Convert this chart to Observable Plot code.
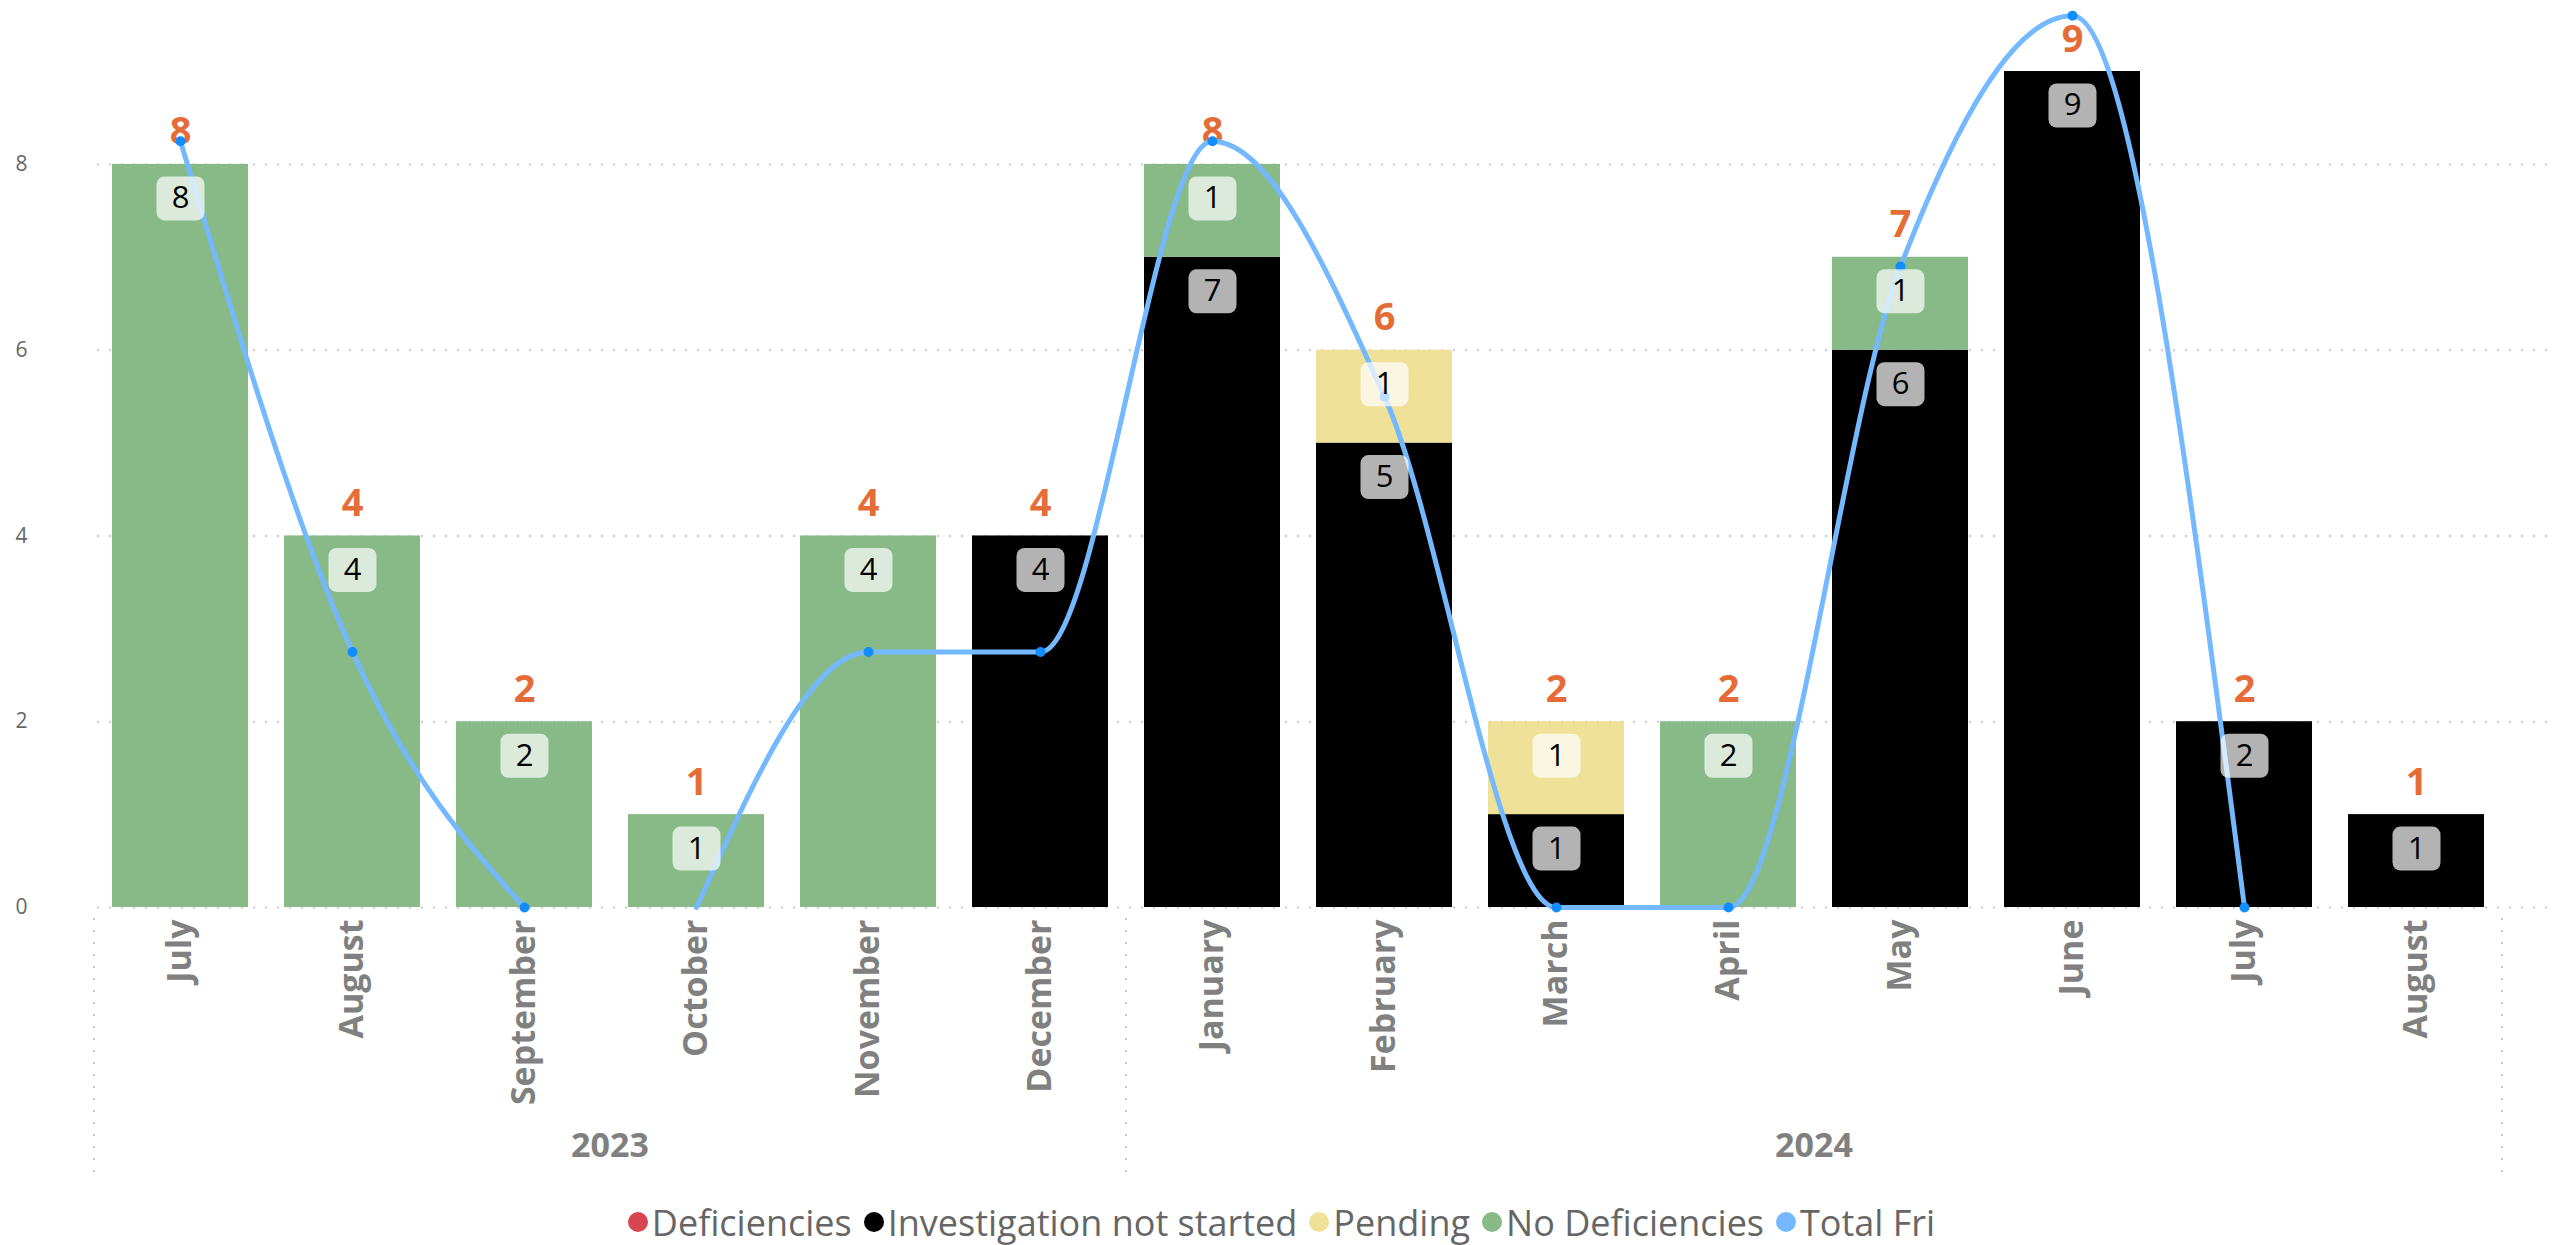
<!DOCTYPE html>
<html>
<head>
<meta charset="utf-8">
<script src="https://cdn.jsdelivr.net/npm/d3@7"></script>
<script src="https://cdn.jsdelivr.net/npm/@observablehq/plot@0.6"></script>
<style>
  html, body { margin: 0; padding: 0; background: #fff; }
  #chart svg { display: block; }
  #legend { display: flex; justify-content: center; align-items: center; height: 74px;
    font-family: "Segoe UI", "Open Sans", sans-serif; font-size: 36px; color: #666; }
  #legend .item { display: flex; align-items: center; margin: 0 6px; }
  #legend .sw { width: 20px; height: 20px; border-radius: 50%; margin-right: 4px; }
</style>
</head>
<body>
<div id="chart"></div>
<div id="legend"></div>
<script>
// ---- data ----
const monthKeys = ["2023-07","2023-08","2023-09","2023-10","2023-11","2023-12","2024-01","2024-02","2024-03","2024-04","2024-05","2024-06","2024-07","2024-08"];
const monthLabels = ["July","August","September","October","November","December","January","February","March","April","May","June","July","August"];
const monthYear = ["2023","2023","2023","2023","2023","2023","2024","2024","2024","2024","2024","2024","2024","2024"];
const yearLabels = ["2023","2024"];

const seriesNames = ["Deficiencies","Investigation not started","Pending","No Deficiencies"];
const seriesColors = ["#D64550","#000000","#F0E199","#87BA87"];
const deficiencies   = [0,0,0,0,0,0,0,0,0,0,0,0,0,0];
const investigation  = [0,0,0,0,0,4,7,5,1,0,6,9,2,1];
const pending        = [0,0,0,0,0,0,0,1,1,0,0,0,0,0];
const noDeficiencies = [8,4,2,1,4,0,1,0,0,2,1,0,0,0];

const lineName = "Total Fri";
const lineColor = "#74B9FF";
const totalFri = [8.25,2.75,0,0,2.75,2.75,8.25,5.5,0,0,6.9,9.6,0,null];
const totalFriSegment = ["a","a","a","b","b","b","b","b","b","b","b","b","b","b"];
const totalFriMarker = [true,true,true,false,true,true,true,true,true,true,true,true,true,false];

const yTicks = [0,2,4,6,8];

// ---- tables ----
const seriesValues = [deficiencies, investigation, pending, noDeficiencies];
const long = [];
seriesNames.forEach((s, si) => {
  monthKeys.forEach((k, i) => long.push({key: k, series: s, value: seriesValues[si][i]}));
});
const nonZero = long.filter(d => d.value > 0);
const totals = monthKeys.map((k, i) => ({key: k, total: seriesValues.reduce((a, arr) => a + arr[i], 0)}));
const lineData = monthKeys.map((k, i) => ({key: k, v: totalFri[i], seg: totalFriSegment[i], m: totalFriMarker[i]}));
const labelOf = Object.fromEntries(monthKeys.map((k, i) => [k, monthLabels[i]]));

const roundRect = {
  draw(ctx) {
    const w = 48, h = 44, r = 8, x0 = -w/2, y0 = -h/2;
    ctx.moveTo(x0 + r, y0);
    ctx.arcTo(x0 + w, y0, x0 + w, y0 + h, r);
    ctx.arcTo(x0 + w, y0 + h, x0, y0 + h, r);
    ctx.arcTo(x0, y0 + h, x0, y0, r);
    ctx.arcTo(x0, y0, x0 + w, y0, r);
    ctx.closePath();
  }
};

const font = "'Segoe UI', 'Open Sans', sans-serif";
const W = 2563, H = 1185;
const stackOpts = {x: "key", y: "value", z: "series", order: seriesNames};

const chart = Plot.plot({
  width: W, height: H,
  marginLeft: 97, marginRight: 12, marginTop: 6, marginBottom: 278,
  style: {fontFamily: font, background: "#fff"},
  x: {domain: monthKeys, range: [94, 2502], paddingInner: 0.21, paddingOuter: 0.105},
  y: {domain: [0, 9.7]},
  color: {domain: seriesNames, range: seriesColors},
  marks: [
    Plot.gridY({ticks: yTicks, stroke: "#c8c8c8", strokeOpacity: 1, strokeWidth: 2, strokeDasharray: "2,10"}),
    Plot.axisY({ticks: yTicks, tickSize: 0, tickPadding: 70, fontSize: 21, color: "#666", label: null}),
    Plot.axisX({tickSize: 0, tickPadding: 12, tickRotate: -90, tickFormat: k => labelOf[k],
      fontSize: 34, fontWeight: "bold", color: "#808080", label: null}),
    Plot.barY(long, Plot.stackY({...stackOpts, fill: "series"})),
    Plot.text(totals, {x: "key", y: "total", text: d => String(d.total), dy: -20, lineAnchor: "bottom",
      fill: "#E66C37", fontSize: 38, fontWeight: "bold"}),
    Plot.line(lineData, {x: "key", y: "v", z: "seg", stroke: lineColor, strokeWidth: 5, curve: "monotone-x"}),
    Plot.dot(lineData.filter(d => d.v != null && d.m), {x: "key", y: "v", r: 5, fill: "#118DFF"}),
    Plot.dot(nonZero, Plot.stackY2({...stackOpts, symbol: roundRect, r: 10, fill: "white", fillOpacity: 0.7, dy: 34})),
    Plot.text(nonZero, Plot.stackY2({...stackOpts, text: d => String(d.value), dy: 34, fill: "black", fontSize: 31, lineAnchor: "middle"}))
  ]
});
document.getElementById("chart").appendChild(chart);

// Year grouping row, positioned with the plot's own x scale
const xs = chart.scale("x");
const bw = xs.bandwidth, gap = xs.step - xs.bandwidth;
const svg = d3.select(chart);
const g = svg.append("g");
const groupEdges = [];
yearLabels.forEach((yr, yi) => {
  const ks = monthKeys.filter((k, i) => monthYear[i] === yr);
  const x0 = xs.apply(ks[0]) - gap / 2;
  const x1 = xs.apply(ks[ks.length - 1]) + bw + gap / 2;
  groupEdges.push(x0, x1);
  g.append("text").attr("x", (x0 + x1) / 2).attr("y", 1145).attr("dy", "0.35em")
    .attr("text-anchor", "middle").attr("font-size", 34).attr("font-weight", "bold")
    .attr("fill", "#808080").attr("font-family", font).text(yr);
});
[...new Set(groupEdges.map(v => Math.round(v)))].forEach(x => {
  g.append("line").attr("x1", x).attr("x2", x).attr("y1", 918).attr("y2", 1172)
    .attr("stroke", "#c8c8c8").attr("stroke-width", 2).attr("stroke-dasharray", "2,10");
});

// Legend
const legend = document.getElementById("legend");
[...seriesNames.map((s, i) => [s, seriesColors[i]]), [lineName, lineColor]].forEach(([name, c]) => {
  const it = document.createElement("div"); it.className = "item";
  const sw = document.createElement("div"); sw.className = "sw"; sw.style.background = c;
  const t = document.createElement("span"); t.textContent = name;
  it.appendChild(sw); it.appendChild(t); legend.appendChild(it);
});
</script>
</body>
</html>
